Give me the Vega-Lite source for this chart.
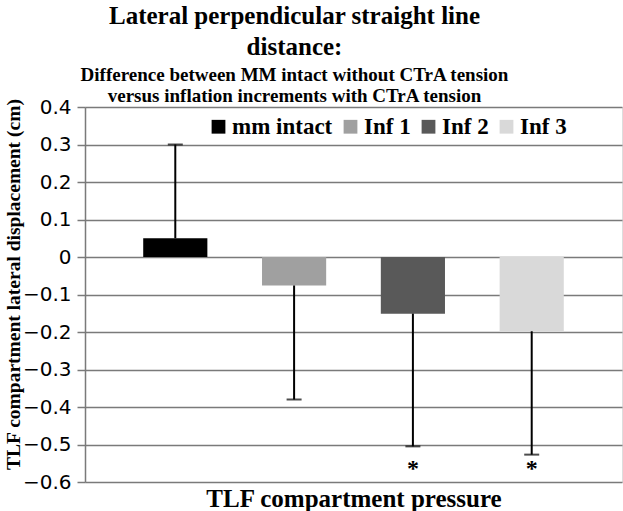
{
  "$schema": "https://vega.github.io/schema/vega-lite/v6.json",
  "width": 537,
  "height": 375,
  "autosize": {"type": "none"},
  "padding": {"left": 85, "top": 107, "right": 1, "bottom": 29},
  "background": "white",
  "title": {
    "text": ["Lateral perpendicular straight line", "distance:"],
    "subtitle": ["Difference between MM intact without CTrA tension", "versus inflation increments with CTrA tension"],
    "font": "Liberation Serif",
    "fontSize": 25,
    "fontWeight": "bold",
    "lineHeight": 31,
    "color": "black",
    "subtitleFont": "Liberation Serif",
    "subtitleFontSize": 19,
    "subtitleFontWeight": "bold",
    "subtitleLineHeight": 21,
    "subtitleColor": "black",
    "subtitlePadding": 6,
    "anchor": "middle",
    "frame": "group",
    "dx": -59,
    "dy": 13,
    "offset": 3
  },
  "config": {
    "axisY": {
      "grid": true,
      "gridColor": "#7a7a7a",
      "gridWidth": 1.5,
      "domainColor": "#7a7a7a",
      "domainWidth": 1.5,
      "tickColor": "#7a7a7a",
      "tickWidth": 1.5,
      "tickSize": 8,
      "labelFont": "DejaVu Sans",
      "labelFontSize": 20,
      "labelColor": "black",
      "labelPadding": 6,
      "labelOverlap": false,
      "titleFont": "Liberation Serif",
      "titleFontSize": 19.5,
      "titleFontWeight": "bold",
      "titleColor": "black",
      "titleX": -81,
      "titleY": 177,
      "titleAlign": "center",
      "titleBaseline": "top"
    }
  },
  "data": {
    "values": [
      {"group": "mm intact", "value": 0.05, "err": 0.30, "star": ""},
      {"group": "Inf 1", "value": -0.076, "err": -0.38, "star": ""},
      {"group": "Inf 2", "value": -0.151, "err": -0.505, "star": "*"},
      {"group": "Inf 3", "value": -0.198, "err": -0.527, "star": "*"}
    ]
  },
  "encoding": {
    "x": {
      "field": "group",
      "type": "nominal",
      "sort": null,
      "scale": {"paddingInner": 0.46, "paddingOuter": 0.49},
      "axis": {
        "title": "TLF compartment pressure",
        "labels": false,
        "ticks": false,
        "domain": false,
        "grid": false,
        "titleFont": "Liberation Serif",
        "titleFontSize": 25,
        "titleFontWeight": "bold",
        "titleColor": "black",
        "titlePadding": 4
      }
    }
  },
  "layer": [
    {
      "mark": {"type": "bar"},
      "encoding": {
        "y": {
          "field": "value",
          "type": "quantitative",
          "scale": {"domain": [-0.6, 0.4], "nice": false},
          "axis": {
            "title": "TLF compartment  lateral displacement (cm)",
            "values": [-0.6, -0.5, -0.4, -0.3, -0.2, -0.1, 0, 0.1, 0.2, 0.3, 0.4],
            "format": "~g"
          }
        },
        "color": {
          "field": "group",
          "type": "nominal",
          "scale": {
            "domain": ["mm intact", "Inf 1", "Inf 2", "Inf 3"],
            "range": ["#000000", "#a0a0a0", "#595959", "#d9d9d9"]
          },
          "legend": {
            "orient": "none",
            "legendX": 122,
            "legendY": 8,
            "direction": "horizontal",
            "title": null,
            "symbolType": "square",
            "symbolSize": 190,
            "symbolStrokeWidth": 0,
            "labelFont": "Liberation Serif",
            "labelFontSize": 23,
            "labelFontWeight": "bold",
            "labelColor": "black",
            "labelOffset": 2,
            "columnPadding": 6,
            "padding": 0
          }
        }
      }
    },
    {
      "mark": {"type": "rule", "strokeWidth": 2, "color": "black"},
      "encoding": {
        "y": {
          "field": "value",
          "type": "quantitative",
          "axis": {
            "title": "TLF compartment  lateral displacement (cm)",
            "values": [-0.6, -0.5, -0.4, -0.3, -0.2, -0.1, 0, 0.1, 0.2, 0.3, 0.4],
            "format": "~g"
          }
        },
        "y2": {"field": "err"}
      }
    },
    {
      "mark": {"type": "tick", "size": 15, "thickness": 2, "color": "black", "orient": "horizontal"},
      "encoding": {
        "y": {
          "field": "err",
          "type": "quantitative",
          "axis": {
            "title": "TLF compartment  lateral displacement (cm)",
            "values": [-0.6, -0.5, -0.4, -0.3, -0.2, -0.1, 0, 0.1, 0.2, 0.3, 0.4],
            "format": "~g"
          }
        }
      }
    },
    {
      "mark": {"type": "text", "font": "Liberation Serif", "fontSize": 24, "fontWeight": "bold", "baseline": "middle", "color": "black"},
      "encoding": {
        "y": {
          "datum": -0.565,
          "axis": {
            "title": "TLF compartment  lateral displacement (cm)",
            "values": [-0.6, -0.5, -0.4, -0.3, -0.2, -0.1, 0, 0.1, 0.2, 0.3, 0.4],
            "format": "~g"
          }
        },
        "text": {"field": "star"}
      }
    }
  ]
}
